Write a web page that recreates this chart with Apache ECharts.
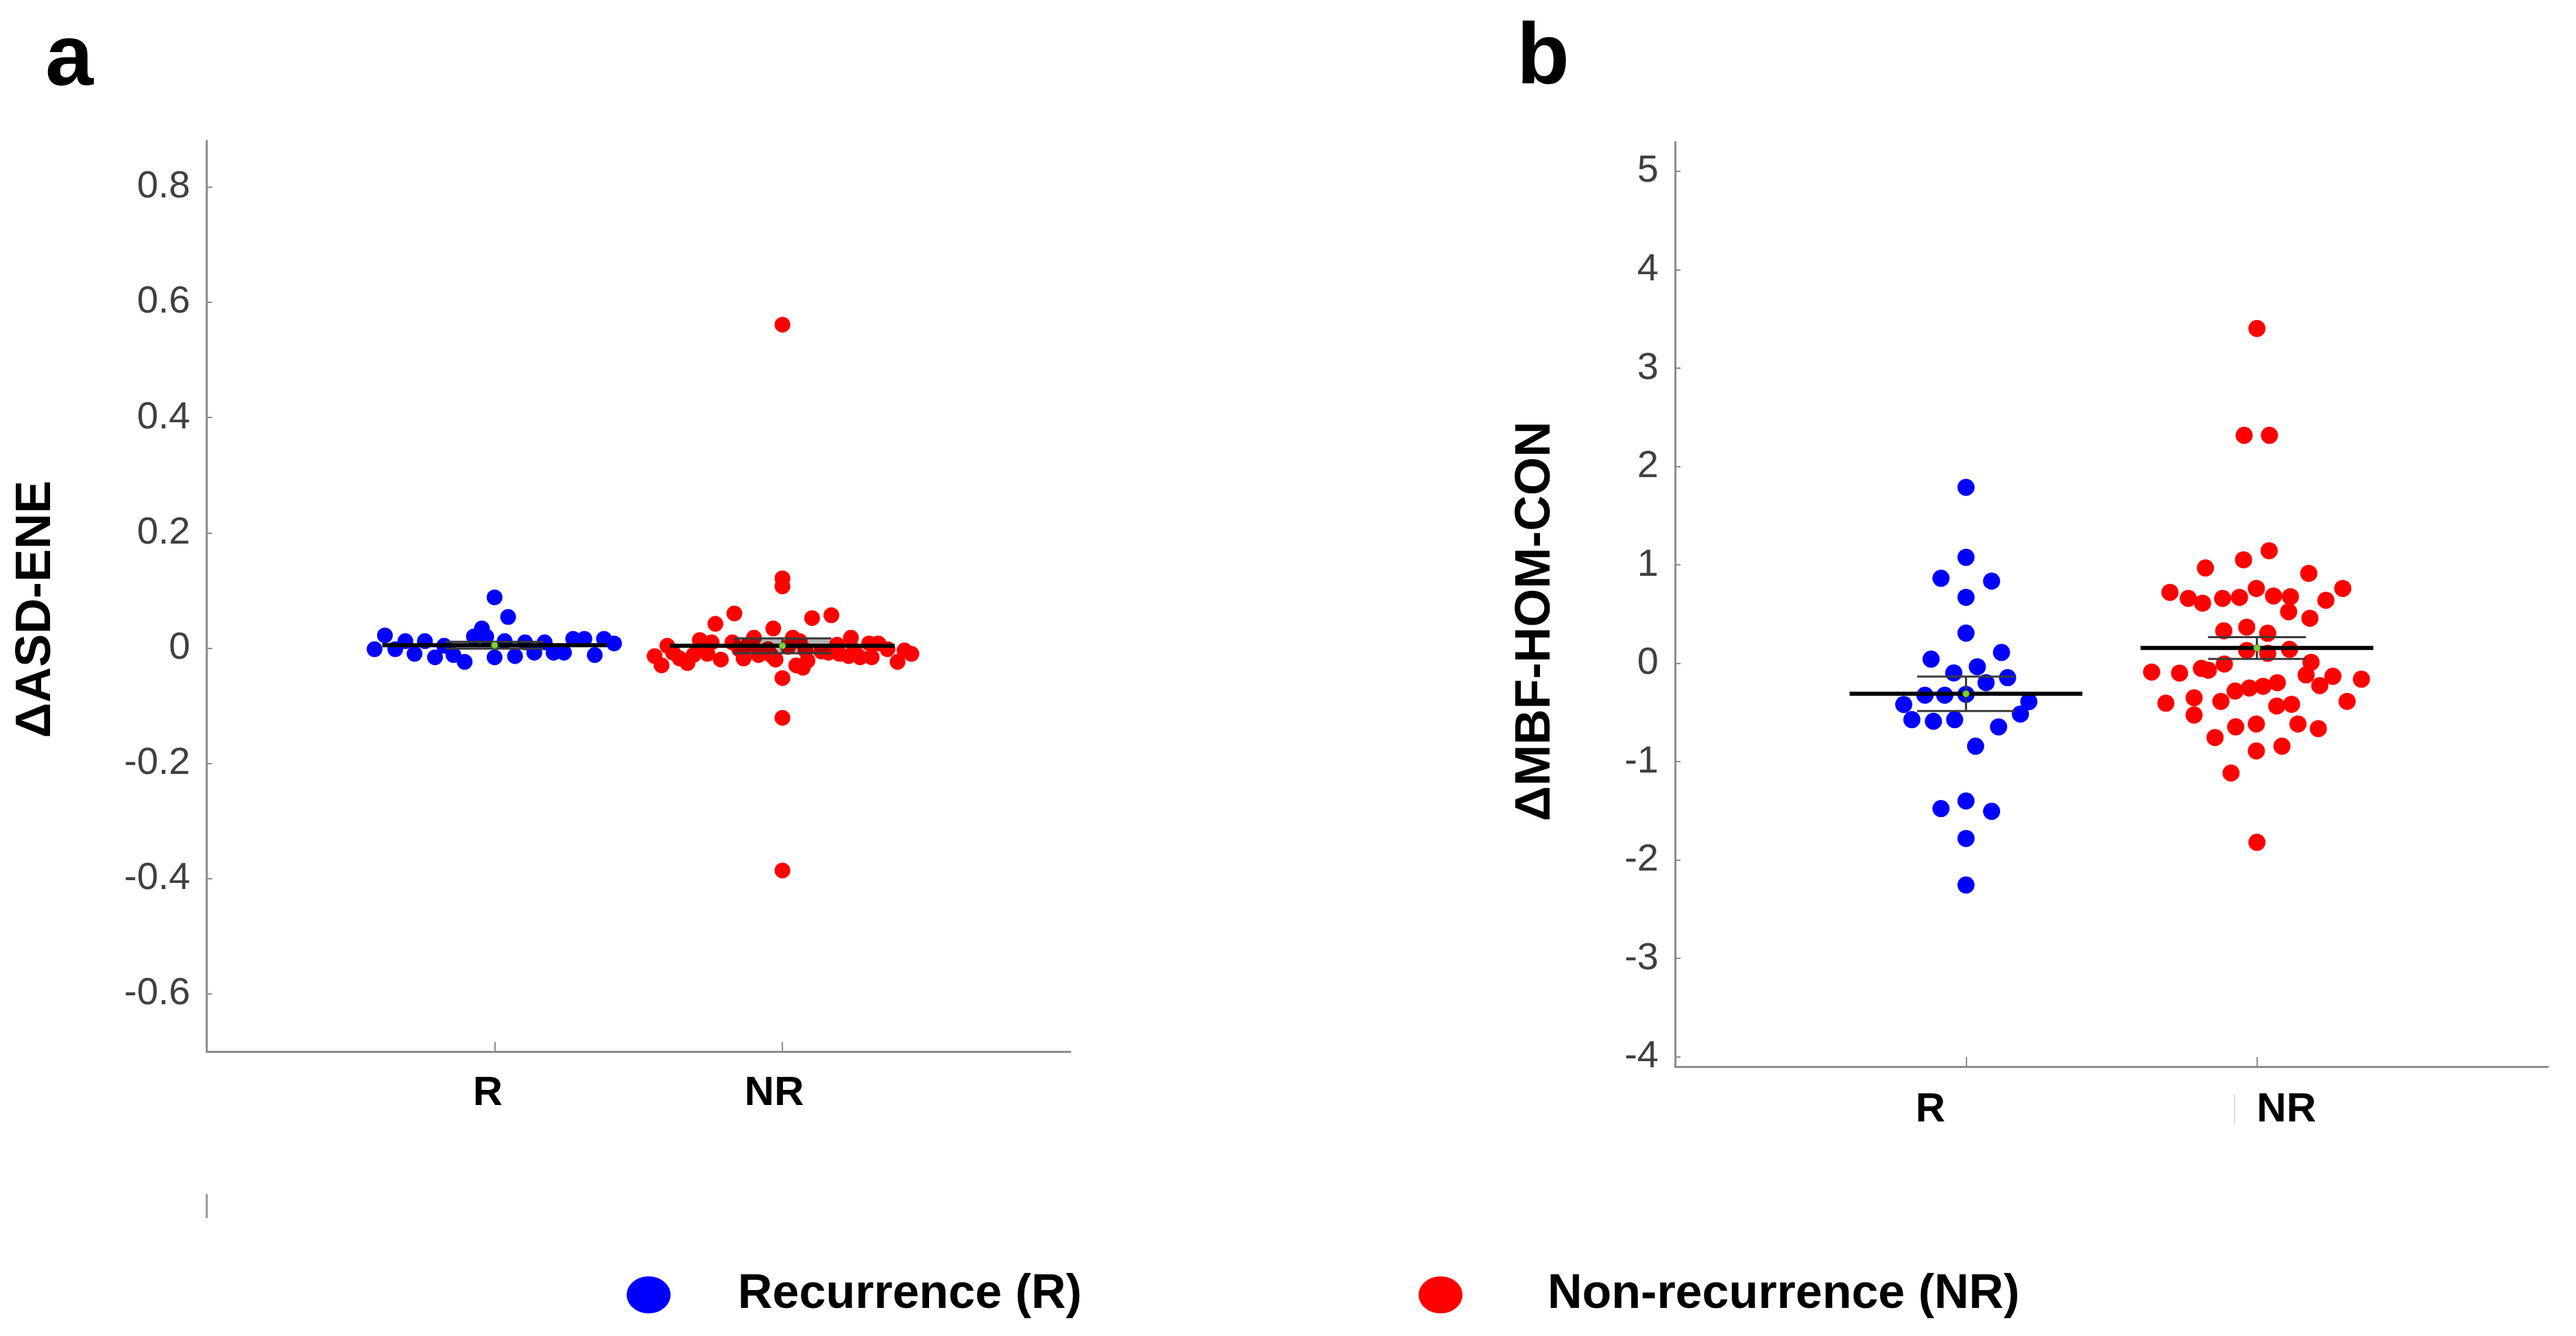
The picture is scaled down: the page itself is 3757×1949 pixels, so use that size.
<!DOCTYPE html>
<html>
<head>
<meta charset="utf-8">
<script src="https://cdn.jsdelivr.net/npm/echarts@6/dist/echarts.min.js"></script>
<style>
html,body{margin:0;padding:0;background:#fff;}
#chart{width:3757px;height:1949px;}
</style>
</head>
<body>
<div id="chart"></div>
<script>
// ---------- data ----------
const categories = ['R', 'NR'];
const seriesNames = ['Recurrence (R)', 'Non-recurrence (NR)'];
const aTicks = [-0.6, -0.4, -0.2, 0, 0.2, 0.4, 0.6, 0.8];
const bTicks = [-4, -3, -2, -1, 0, 1, 2, 3, 4, 5];

// Panel a: ΔASD-ENE
const aR_values = [0.088, 0.054, 0.034, 0.020, 0.020, 0.022, -0.002, 0.012, -0.002, 0.012,
  -0.010, -0.016, 0.004, -0.012, -0.024, -0.016, 0.012, -0.014, 0.010, -0.008,
  0.010, -0.008, -0.008, 0.016, 0.016, -0.012, 0.016, 0.008];
const aR_jitter = [0, 0.047, -0.044, -0.072, -0.029, -0.381, -0.417, -0.310, -0.345, -0.242,
  -0.278, -0.207, -0.175, -0.143, -0.104, 0, 0.035, 0.071, 0.106, 0.138,
  0.174, 0.205, 0.241, 0.273, 0.312, 0.348, 0.380, 0.415];

const aNR_values = [0.561, 0.121, 0.107, 0.060, 0.042, 0.034, 0.052, 0.057, 0.018, 0.014,
  0.010, 0.018, 0.018, 0.010, 0.008, 0.008, 0.006, -0.014, -0.030, -0.008,
  -0.018, -0.012, -0.010, -0.020, -0.002, -0.018, -0.012, -0.020, -0.002, -0.030,
  -0.022, -0.052, -0.121, -0.386, -0.010, -0.014, -0.024, -0.004, -0.010, -0.006,
  -0.016, -0.002, 0.004, -0.004, 0.006, -0.008, -0.012, 0.002, -0.026, -0.004,
  -0.016, 0.012, -0.004, -0.034];
const aNR_jitter = [0, 0, 0, -0.167, -0.233, -0.032, 0.103, 0.170, 0.238, -0.287,
  -0.246, -0.099, 0.036, -0.174, 0.301, 0.333, 0.190, -0.444, -0.420, -0.380,
  -0.357, -0.309, -0.261, -0.214, -0.150, -0.135, -0.083, -0.024, -0.050, 0.048,
  0.087, 0, 0, 0, 0.198, 0.230, 0.400, 0.424, 0.448, 0.135,
  0.270, 0.365, -0.400, 0.080, -0.120, 0.160, -0.040, 0.020, -0.330, 0.250,
  0.310, 0.060, -0.280, 0.071];

// Panel b: ΔMBF-HOM-CON
const bR_values = [1.788, 1.077, 0.864, 0.835, 0.670, 0.307, 0.042, 0.110, -0.098, -0.035,
  -0.197, -0.146, -0.325, -0.325, -0.316, -0.419, -0.390, -0.573, -0.590, -0.573,
  -0.516, -0.647, -0.843, -1.477, -1.400, -1.505, -1.781, -2.254];
const bR_jitter = [0, 0, -0.086, 0.088, 0, 0, -0.120, 0.122, -0.042, 0.039,
  0.069, 0.143, -0.141, -0.073, 0, -0.214, 0.216, -0.186, -0.112, -0.039,
  0.187, 0.112, 0.033, -0.086, 0, 0.088, 0, 0];

const bNR_values = [3.403, 2.317, 2.317, 1.144, 1.052, 0.969, 0.914, 0.721, 0.659, 0.611,
  0.659, 0.670, 0.761, 0.684, 0.677, 0.761, 0.640, 0.524, 0.458, 0.330,
  0.367, 0.305, 0.130, 0.101, 0.141, -0.089, -0.100, -0.052, -0.070, -0.008,
  0.010, -0.118, -0.227, -0.132, -0.162, -0.406, -0.351, -0.526, -0.387, -0.282,
  -0.252, -0.234, -0.198, -0.435, -0.417, -0.387, -0.755, -0.646, -0.617, -0.617,
  -0.664, -0.891, -0.843, -1.116, -1.820];
const bNR_jitter = [0, -0.044, 0.043, 0.042, -0.046, -0.177, 0.178, -0.299, -0.236, -0.187,
  -0.118, -0.060, -0.002, 0.057, 0.115, 0.295, 0.237, 0.109, 0.182, -0.114,
  -0.035, 0.037, -0.035, 0.037, 0.112, -0.362, -0.266, -0.191, -0.167, -0.112,
  0.186, 0.169, 0.216, 0.261, 0.359, -0.313, -0.216, -0.216, -0.124, -0.075,
  -0.026, 0.021, 0.070, 0.068, 0.119, 0.310, -0.144, -0.073, -0.002, 0.141,
  0.211, -0.002, 0.086, -0.089, 0];

// group mean and SEM (as drawn)
const a_means = [0.005, 0.004];
const a_sems = [0.006, 0.013];
const b_means = [-0.31, 0.155];
const b_sems = [0.175, 0.11];

// ---------- chart ----------
const FONT = "'Liberation Sans', Arial, Helvetica, sans-serif";
const AXIS_GREY = '#8c8c8c';
const BLUE = '#0000ff', RED = '#ff0000';

function pts(values, jitter, center) {
  return values.map((v, i) => [center + jitter[i], v]);
}
function fmtA(v) { return Math.abs(v) < 1e-9 ? '0' : v.toFixed(1); }
function fmtB(v) { return String(Math.round(v)); }

function meanSemRender(halfMean, halfSem, patch) {
  return function (params, api) {
    const x = api.value(0), m = api.value(1), s = api.value(2);
    const ml = api.coord([x - halfMean, m]), mr = api.coord([x + halfMean, m]);
    const ul = api.coord([x - halfSem, m + s]), ur = api.coord([x + halfSem, m + s]);
    const ll = api.coord([x - halfSem, m - s]), lr = api.coord([x + halfSem, m - s]);
    const c = api.coord([x, m]);
    const children = [];
    if (patch) {
      children.push({ type: 'rect', shape: { x: ul[0], y: ul[1], width: ur[0] - ul[0], height: ll[1] - ul[1] },
        style: { fill: 'rgba(0,0,0,0.3)' } });
    }
    children.push({ type: 'line', shape: { x1: c[0], y1: ul[1], x2: c[0], y2: ll[1] }, style: { stroke: '#333', lineWidth: 3 } });
    children.push({ type: 'line', shape: { x1: ul[0], y1: ul[1], x2: ur[0], y2: ur[1] }, style: { stroke: '#3a3a3a', lineWidth: 3 } });
    children.push({ type: 'line', shape: { x1: ll[0], y1: ll[1], x2: lr[0], y2: lr[1] }, style: { stroke: '#3a3a3a', lineWidth: 3 } });
    children.push({ type: 'line', shape: { x1: ml[0], y1: ml[1], x2: mr[0], y2: mr[1] }, style: { stroke: '#000', lineWidth: 6 } });
    children.push({ type: 'circle', shape: { cx: c[0], cy: c[1], r: 5 }, style: { fill: '#7ccf3a', stroke: '#2f6d16', lineWidth: 1 } });
    return { type: 'group', children: children };
  };
}

function xAxisCfg(gridIndex, rich) {
  return {
    gridIndex: gridIndex, type: 'value', min: 0, max: 3,
    axisLine: { show: true, onZero: false, lineStyle: { color: AXIS_GREY, width: 3 } },
    axisTick: { show: true, inside: true, length: 14, customValues: [1, 2], lineStyle: { color: AXIS_GREY, width: 2 } },
    axisLabel: {
      customValues: [1, 2],
      formatter: v => { const k = Math.round(v); return k === 1 ? '{r|R}' : (k === 2 ? '{nr|NR}' : ''); },
      margin: gridIndex === 0 ? 31 : 33,
      fontSize: 60, fontWeight: 'bold', color: '#000', fontFamily: FONT,
      rich: rich
    },
    splitLine: { show: false }
  };
}

const richA = {
  r: { fontSize: 60, fontWeight: 'bold', color: '#000', fontFamily: FONT, padding: [0, 20, 0, 0] },
  nr: { fontSize: 60, fontWeight: 'bold', color: '#000', fontFamily: FONT, padding: [0, 24, 0, 0] }
};
const richB = {
  r: { fontSize: 60, fontWeight: 'bold', color: '#000', fontFamily: FONT, padding: [0, 104, 0, 0] },
  nr: { fontSize: 60, fontWeight: 'bold', color: '#000', fontFamily: FONT, padding: [0, 0, 0, 86] }
};

const option = {
  backgroundColor: '#fff',
  animation: false,
  grid: [
    { left: 301.5, top: 205.5, width: 1259.5, height: 1328.5 },
    { left: 2443, top: 207, width: 1273, height: 1349 }
  ],
  xAxis: [xAxisCfg(0, richA), xAxisCfg(1, richB)],
  yAxis: [
    {
      gridIndex: 0, type: 'value', min: -0.7, max: 0.88,
      axisLine: { show: true, onZero: false, lineStyle: { color: AXIS_GREY, width: 3 } },
      axisTick: { show: true, inside: true, length: 8, customValues: aTicks, lineStyle: { color: AXIS_GREY, width: 2 } },
      axisLabel: { customValues: aTicks, formatter: fmtA, margin: 24, fontSize: 56, color: '#404040', fontFamily: FONT },
      splitLine: { show: false },
      name: 'ΔASD-ENE', nameLocation: 'middle', nameGap: 212,
      nameTextStyle: { fontSize: 72, fontWeight: 'bold', color: '#000', fontFamily: FONT, padding: [0, 38, 0, 0] }
    },
    {
      gridIndex: 1, type: 'value', min: -4.1, max: 5.3,
      axisLine: { show: true, onZero: false, lineStyle: { color: AXIS_GREY, width: 3 } },
      axisTick: { show: true, inside: true, length: 8, customValues: bTicks, lineStyle: { color: AXIS_GREY, width: 2 } },
      axisLabel: { customValues: bTicks, formatter: fmtB, margin: 24, fontSize: 56, color: '#404040', fontFamily: FONT },
      splitLine: { show: false },
      name: 'ΔMBF-HOM-CON', nameLocation: 'middle', nameGap: 167,
      nameTextStyle: { fontSize: 72, fontWeight: 'bold', color: '#000', fontFamily: FONT, padding: [0, 50, 0, 0] }
    }
  ],
  series: [
    { name: seriesNames[0], type: 'scatter', xAxisIndex: 0, yAxisIndex: 0, symbol: 'circle', symbolSize: 23,
      itemStyle: { color: BLUE, opacity: 1 }, data: pts(aR_values, aR_jitter, 1), z: 2, silent: true },
    { name: seriesNames[1], type: 'scatter', xAxisIndex: 0, yAxisIndex: 0, symbol: 'circle', symbolSize: 23,
      itemStyle: { color: RED, opacity: 1 }, data: pts(aNR_values, aNR_jitter, 2), z: 2, silent: true },
    { name: seriesNames[0], type: 'scatter', xAxisIndex: 1, yAxisIndex: 1, symbol: 'circle', symbolSize: 25,
      itemStyle: { color: BLUE, opacity: 1 }, data: pts(bR_values, bR_jitter, 1), z: 2, silent: true },
    { name: seriesNames[1], type: 'scatter', xAxisIndex: 1, yAxisIndex: 1, symbol: 'circle', symbolSize: 25,
      itemStyle: { color: RED, opacity: 1 }, data: pts(bNR_values, bNR_jitter, 2), z: 2, silent: true },
    { type: 'custom', xAxisIndex: 0, yAxisIndex: 0, z: 5, silent: true,
      renderItem: meanSemRender(0.39, 0.17, true),
      data: [1, 2].map((c, i) => [c, a_means[i], a_sems[i]]) },
    { type: 'custom', xAxisIndex: 1, yAxisIndex: 1, z: 5, silent: true,
      renderItem: meanSemRender(0.40, 0.168, false),
      data: [1, 2].map((c, i) => [c, b_means[i], b_sems[i]]) }
  ],
  graphic: [
    { type: 'text', left: 66, top: 26, style: { text: 'a', fontSize: 126, fontWeight: 'bold', fill: '#000', fontFamily: FONT } },
    { type: 'text', left: 2212, top: 24, style: { text: 'b', fontSize: 126, fontWeight: 'bold', fill: '#000', fontFamily: FONT } },
    // legend
    { type: 'ellipse', shape: { cx: 946, cy: 1889, rx: 32, ry: 27 }, style: { fill: BLUE } },
    { type: 'text', x: 1076, y: 1889, style: { text: seriesNames[0], fontSize: 70, fontWeight: 'bold', fill: '#000',
      fontFamily: FONT, verticalAlign: 'middle', align: 'left' } },
    { type: 'ellipse', shape: { cx: 2101, cy: 1889, rx: 32, ry: 27 }, style: { fill: RED } },
    { type: 'text', x: 2257, y: 1889, style: { text: seriesNames[1], fontSize: 70, fontWeight: 'bold', fill: '#000',
      fontFamily: FONT, verticalAlign: 'middle', align: 'left' } },
    // small stray marks present in the original figure
    { type: 'line', shape: { x1: 301.5, y1: 1742, x2: 301.5, y2: 1777 }, style: { stroke: '#9a9a9a', lineWidth: 3 } },
    { type: 'line', shape: { x1: 3259, y1: 1597, x2: 3259, y2: 1640 }, style: { stroke: '#dddddd', lineWidth: 2 } }
  ]
};

const chart = echarts.init(document.getElementById('chart'), null, { renderer: 'canvas', width: 3757, height: 1949 });
chart.setOption(option);
</script>
</body>
</html>
